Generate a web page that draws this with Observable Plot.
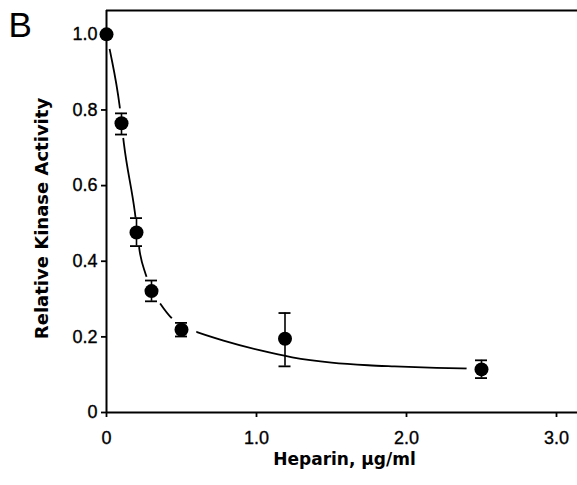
<!DOCTYPE html>
<html><head><meta charset="utf-8">
<script src="https://cdn.jsdelivr.net/npm/d3@7"></script>
<script src="https://cdn.jsdelivr.net/npm/@observablehq/plot@0.6"></script>
<style>body{margin:0;background:#fff} svg{display:block}</style>
</head><body><div id="chart"></div>
<script>
const panelLabel = "B";
const xTitle = "Heparin, µg/ml";
const yTitle = "Relative Kinase Activity";
const xTicks = [0, 1, 2, 3];
const xTickLabels = ["0", "1.0", "2.0", "3.0"];
const yTicks = [0, 0.2, 0.4, 0.6, 0.8, 1.0];
const yTickLabels = ["0", "0.2", "0.4", "0.6", "0.8", "1.0"];

// measured points (mean ± error)
const heparin  = [0,    0.1,   0.2,   0.3,   0.5,   1.19,  2.5];
const activity = [1.0,  0.765, 0.476, 0.321, 0.219, 0.195, 0.114];
const errLow   = [null, 0.735, 0.44,  0.294, 0.201, 0.122, 0.091];
const errHigh  = [null, 0.791, 0.514, 0.349, 0.237, 0.263, 0.138];

// fitted curve
const fitX = [0, 0.027, 0.087, 0.116, 0.189, 0.222, 0.26, 0.3, 0.36, 0.438, 0.5, 0.571, 0.78, 1.027, 1.238, 1.5, 1.744, 1.92, 2.2, 2.45];
const fitY = [1.0, 0.949, 0.812, 0.711, 0.53, 0.424, 0.367, 0.325, 0.287, 0.248, 0.228, 0.217, 0.19, 0.164, 0.146, 0.132, 0.125, 0.122, 0.118, 0.116];

const xMax = 3.14, yTop = 1.063;
const capHalf = 0.04;

const points = heparin.map((x, i) => ({x, y: activity[i], lo: errLow[i], hi: errHigh[i]}));
const bars = points.filter(d => d.lo != null);
const fit = fitX.map((x, i) => ({x, y: fitY[i]}));
const font = "Liberation Sans, Arial, sans-serif";

const chart = Plot.plot({
  width: 577, height: 485,
  marginLeft: 106, marginRight: 0, marginTop: 10, marginBottom: 73,
  style: {fontFamily: font, fontSize: "18px", background: "#fff", color: "#000"},
  x: {domain: [0, xMax]},
  y: {domain: [0, yTop]},
  marks: [
    Plot.line(fit, {x: "x", y: "y", curve: "monotone-x", stroke: "#000", strokeWidth: 1.8}),
    Plot.dot(points, {x: "x", y: "y", r: 15, fill: "#fff", stroke: "none"}),
    Plot.ruleX(bars, {x: "x", y1: "lo", y2: "hi", stroke: "#000", strokeWidth: 1.6}),
    Plot.ruleY(bars, {y: "lo", x1: d => d.x - capHalf, x2: d => d.x + capHalf, stroke: "#000", strokeWidth: 1.8}),
    Plot.ruleY(bars, {y: "hi", x1: d => d.x - capHalf, x2: d => d.x + capHalf, stroke: "#000", strokeWidth: 1.8}),
    Plot.dot(points, {x: "x", y: "y", r: 7, fill: "#000", stroke: "none"}),
    Plot.ruleX([0], {stroke: "#000", strokeWidth: 2}),
    Plot.ruleY([0], {stroke: "#000", strokeWidth: 2}),
    Plot.ruleY([yTop], {stroke: "#000", strokeWidth: 2}),
    Plot.axisY(yTicks, {tickFormat: () => "", tickSize: 5, strokeWidth: 1.8, label: null}),
    Plot.axisX(xTicks, {tickFormat: () => "", tickSize: 5, strokeWidth: 1.8, label: null}),
    Plot.text(yTicks, {x: 0, y: d => d, text: d => yTickLabels[yTicks.indexOf(d)], dx: -9, textAnchor: "end", lineAnchor: "middle", fontSize: 18, fontFamily: font, fill: "#000", stroke: "#000", strokeWidth: 0.35}),
    Plot.text(xTicks, {x: d => d, y: 0, text: d => xTickLabels[xTicks.indexOf(d)], dy: 19, textAnchor: "middle", lineAnchor: "top", fontSize: 18, fontFamily: font, fill: "#000", stroke: "#000", strokeWidth: 0.35}),
    Plot.text([panelLabel], {text: d => d, frameAnchor: "top-left", dx: -98, dy: 2, fontSize: 35, fontFamily: font, fill: "#000"}),
    Plot.text([yTitle], {text: d => d, frameAnchor: "left", rotate: -90, dx: -64, dy: 7, textAnchor: "middle", lineAnchor: "middle", fontSize: 18, fontWeight: "bold", fontFamily: "DejaVu Sans", fill: "#000"}),
    Plot.text([xTitle], {text: d => d, frameAnchor: "bottom", dx: 2.5, dy: 47, textAnchor: "middle", lineAnchor: "middle", fontSize: 17, fontWeight: "bold", fontFamily: "DejaVu Sans", fill: "#000"})
  ]
});
document.getElementById("chart").append(chart);
</script>
</body></html>
